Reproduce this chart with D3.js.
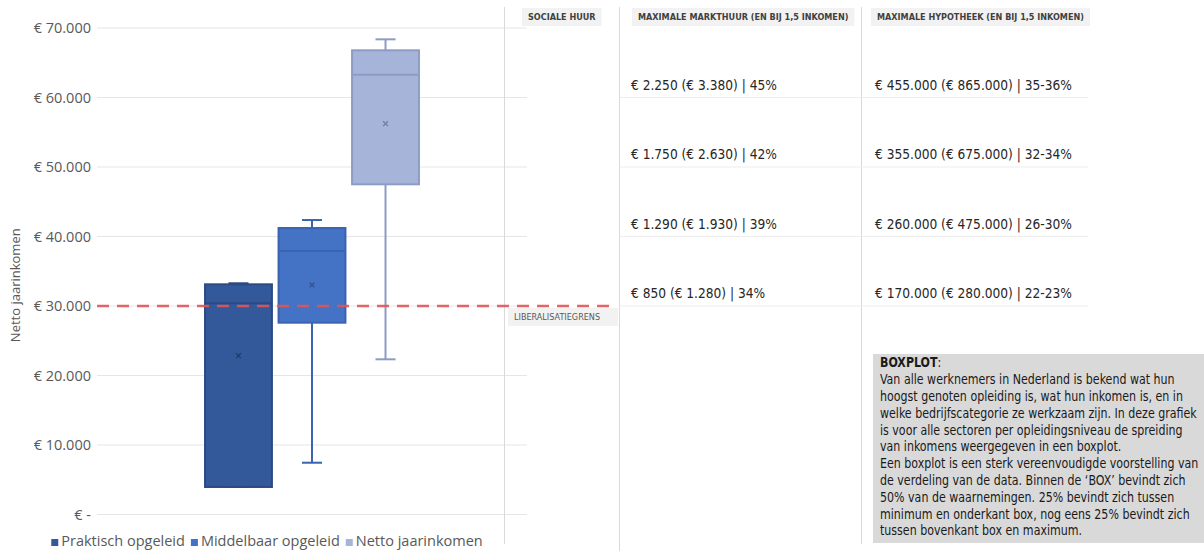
<!DOCTYPE html>
<html>
<head>
<meta charset="utf-8">
<script src="https://cdn.jsdelivr.net/npm/d3@7"></script>
<style>
  html, body { margin: 0; padding: 0; background: #fff; }
  svg { display: block; }
</style>
</head>
<body>
<svg id="chart" width="1204" height="551"></svg>
<script>
// Income distribution per education level (net yearly income, euro)
const seriesNames = ["Praktisch opgeleid", "Middelbaar opgeleid", "Netto jaarinkomen"];
const minValues    = [3960, 7450, 22330];
const q1Values     = [3960, 27600, 47510];
const medianValues = [30390, 37910, 63280];
const q3Values     = [33120, 41220, 66790];
const maxValues    = [33270, 42370, 68370];
const meanValues   = [22850, 33020, 56230];
const seriesFill   = ["#34599B", "#4472C4", "#A6B4DA"];
const seriesStroke = ["#2B4A84", "#3A64B0", "#8D9CC5"];

const yTicks = [0, 10000, 20000, 30000, 40000, 50000, 60000, 70000];
const liberalisatiegrens = 30000;

// Housing table next to the chart, one row per income level
const tableHeaders = ["SOCIALE HUUR", "MAXIMALE MARKTHUUR (EN BIJ 1,5 INKOMEN)", "MAXIMALE HYPOTHEEK (EN BIJ 1,5 INKOMEN)"];
const rowIncomes = [60000, 50000, 40000, 30000];
const markthuurLabels = [
  "€ 2.250 (€ 3.380) | 45%",
  "€ 1.750 (€ 2.630) | 42%",
  "€ 1.290 (€ 1.930) | 39%",
  "€ 850 (€ 1.280) | 34%"
];
const hypotheekLabels = [
  "€ 455.000 (€ 865.000) | 35-36%",
  "€ 355.000 (€ 675.000) | 32-34%",
  "€ 260.000 (€ 475.000) | 26-30%",
  "€ 170.000 (€ 280.000) | 22-23%"
];

const noteTitle = "BOXPLOT";
const noteLines = [
  "Van alle werknemers in Nederland is bekend wat hun",
  "hoogst genoten opleiding is, wat hun inkomen is, en in",
  "welke bedrijfscategorie ze werkzaam zijn. In deze grafiek",
  "is voor alle sectoren per opleidingsniveau de spreiding",
  "van inkomens weergegeven in een boxplot.",
  "Een boxplot is een sterk vereenvoudigde voorstelling van",
  "de verdeling van de data. Binnen de ‘BOX’ bevindt zich",
  "50% van de waarnemingen. 25% bevindt zich tussen",
  "minimum en onderkant box, nog eens 25% bevindt zich",
  "tussen bovenkant box en maximum."
];

const svg = d3.select("#chart");
const chartFont = "'Open Sans', 'Noto Sans', sans-serif";
const tableFont = "'DejaVu Sans Condensed', 'Liberation Sans', sans-serif";
const axisGrey = "#595959";
const gridGrey = "#E6E6E6";

const plot = { left: 97, right: 527, top: 28, bottom: 514.5 };

const y = d3.scaleLinear().domain([0, 70000]).range([plot.bottom, plot.top]);

const xGroup = d3.scaleBand().domain(["all"]).range([plot.left, plot.right])
  .paddingInner(0).paddingOuter(0.505);
const xSeries = d3.scaleBand().domain(seriesNames)
  .range([0, xGroup.bandwidth()]).paddingInner(0.09).paddingOuter(0);

const euro = v => v === 0 ? "€ -" : "€ " + d3.format(",")(v).replace(/,/g, ".");

// Horizontal gridlines of the chart
svg.append("g").selectAll("line").data(yTicks).join("line")
  .attr("x1", plot.left).attr("x2", plot.right)
  .attr("y1", d => y(d)).attr("y2", d => y(d))
  .attr("stroke", gridGrey).attr("stroke-width", 1);

// Y axis
const yAxis = d3.axisLeft(y).tickValues(yTicks).tickFormat(euro).tickSize(0).tickPadding(6);
const yg = svg.append("g").attr("transform", `translate(${plot.left},0)`).call(yAxis);
yg.select(".domain").remove();
yg.selectAll("text").attr("font-family", chartFont).attr("font-size", 14.5).attr("fill", axisGrey);

svg.append("text")
  .attr("transform", `translate(20,${(y(0) + y(70000)) / 2 + 14}) rotate(-90)`)
  .attr("text-anchor", "middle")
  .attr("font-family", chartFont).attr("font-size", 13).attr("fill", axisGrey)
  .text("Netto jaarinkomen");

// Table column separators
const columnLines = [504.5, 619.5, 861.5];
svg.append("g").selectAll("line").data(columnLines).join("line")
  .attr("x1", d => d).attr("x2", d => d)
  .attr("y1", 7).attr("y2", (d, i) => i === 1 ? 551 : 544)
  .attr("stroke", "#D9D9D9").attr("stroke-width", 1);

// Table row lines at the income levels
svg.append("g").selectAll("line").data(rowIncomes).join("line")
  .attr("x1", 619.5).attr("x2", 1088)
  .attr("y1", d => y(d)).attr("y2", d => y(d))
  .attr("stroke", "#EDEDED").attr("stroke-width", 1);

// Boxes
const boxes = svg.append("g").attr("transform", `translate(${xGroup("all")},0)`);
seriesNames.forEach((name, i) => {
  const x0 = xSeries(name), w = xSeries.bandwidth(), cx = x0 + w / 2, cap = w * 0.3;
  const g = boxes.append("g");
  // whiskers
  g.append("line").attr("x1", cx).attr("x2", cx)
    .attr("y1", y(maxValues[i])).attr("y2", y(q3Values[i]))
    .attr("stroke", seriesStroke[i]).attr("stroke-width", 2);
  g.append("line").attr("x1", cx).attr("x2", cx)
    .attr("y1", y(q1Values[i])).attr("y2", y(minValues[i]))
    .attr("stroke", seriesStroke[i]).attr("stroke-width", 2);
  [maxValues[i], minValues[i]].forEach(v => {
    g.append("line").attr("x1", cx - cap / 2).attr("x2", cx + cap / 2)
      .attr("y1", y(v)).attr("y2", y(v))
      .attr("stroke", seriesStroke[i]).attr("stroke-width", 2);
  });
  // box
  g.append("rect").attr("x", x0).attr("width", w)
    .attr("y", y(q3Values[i])).attr("height", y(q1Values[i]) - y(q3Values[i]))
    .attr("fill", seriesFill[i]).attr("stroke", seriesStroke[i]).attr("stroke-width", 2);
  // median
  g.append("line").attr("x1", x0).attr("x2", x0 + w)
    .attr("y1", y(medianValues[i])).attr("y2", y(medianValues[i]))
    .attr("stroke", seriesStroke[i]).attr("stroke-width", 2);
  // mean marker
  const my = y(meanValues[i]), s = 2.4;
  g.append("path")
    .attr("d", `M${cx - s},${my - s}L${cx + s},${my + s}M${cx - s},${my + s}L${cx + s},${my - s}`)
    .attr("stroke", d3.color(seriesStroke[i]).darker(0.6)).attr("stroke-width", 1.3).attr("fill", "none");
});

// Liberalisation threshold
svg.append("line")
  .attr("x1", plot.left).attr("x2", 612)
  .attr("y1", y(liberalisatiegrens)).attr("y2", y(liberalisatiegrens))
  .attr("stroke", "#E05555").attr("stroke-opacity", 0.9)
  .attr("stroke-width", 2.5).attr("stroke-dasharray", "12,8");

function labelBox(x, yTop, h, text, size, weight, color, padRight) {
  const g = svg.append("g");
  const r = g.append("rect").attr("x", x).attr("y", yTop).attr("height", h).attr("fill", "#F2F2F2");
  const t = g.append("text").attr("x", x + 6).attr("y", yTop + h / 2 + size * 0.36)
    .attr("font-family", tableFont).attr("font-size", size).attr("font-weight", weight)
    .attr("fill", color).text(text);
  r.attr("width", t.node().getComputedTextLength() + 6 + padRight);
}
labelBox(508, 308, 18, "LIBERALISATIEGRENS", 9, "normal", "#595959", 18);

// Table headers
const headerX = [522, 632, 871];
tableHeaders.forEach((h, i) => labelBox(headerX[i], 8, 18, h, 9, "bold", "#404040", 6));

// Table values
const valueCols = [{ x: 631, labels: markthuurLabels }, { x: 875, labels: hypotheekLabels }];
valueCols.forEach(col => {
  svg.append("g").selectAll("text").data(rowIncomes).join("text")
    .attr("x", col.x).attr("y", d => y(d) - 8)
    .attr("font-family", tableFont).attr("font-size", 13.6).attr("fill", "#262626")
    .text((d, i) => col.labels[i]);
});

// Explanatory note
const noteBox = { x: 873, y: 354, w: 331, h: 189, pad: 7, lineH: 16.8, maxTextW: 318 };
svg.append("rect").attr("x", noteBox.x).attr("y", noteBox.y)
  .attr("width", noteBox.w).attr("height", noteBox.h).attr("fill", "#D9D9D9");
const note = svg.append("text").attr("font-family", tableFont).attr("font-size", 13.2).attr("fill", "#1A1A1A");
const tx = noteBox.x + noteBox.pad, ty = noteBox.y + 13.5;
const t0 = note.append("tspan").attr("x", tx).attr("y", ty);
t0.append("tspan").attr("font-weight", "bold").text(noteTitle);
t0.append("tspan").text(":");
noteLines.forEach((line, i) => {
  note.append("tspan").attr("x", tx).attr("y", ty + noteBox.lineH * (i + 1)).text(line);
});
// keep the widest line inside the grey panel
const widest = d3.max(note.selectAll(":scope > tspan").nodes(), n => n.getComputedTextLength());
if (widest > noteBox.maxTextW) {
  const k = noteBox.maxTextW / widest;
  note.attr("transform", `translate(${tx},0) scale(${k},1) translate(${-tx},0)`);
}

// Legend
const legend = svg.append("g");
let lx = 0;
seriesNames.forEach((name, i) => {
  const g = legend.append("g").attr("transform", `translate(${lx},0)`);
  g.append("rect").attr("x", 0).attr("y", -7).attr("width", 7).attr("height", 7).attr("fill", seriesFill[i]);
  const t = g.append("text").attr("x", 10).attr("y", 0)
    .attr("font-family", chartFont).attr("font-size", 14.5).attr("fill", axisGrey).text(name);
  lx += 10 + t.node().getComputedTextLength() + 6;
});
const legendW = lx - 6;
legend.attr("transform", `translate(${267 - legendW / 2},546)`);
</script>
</body>
</html>
